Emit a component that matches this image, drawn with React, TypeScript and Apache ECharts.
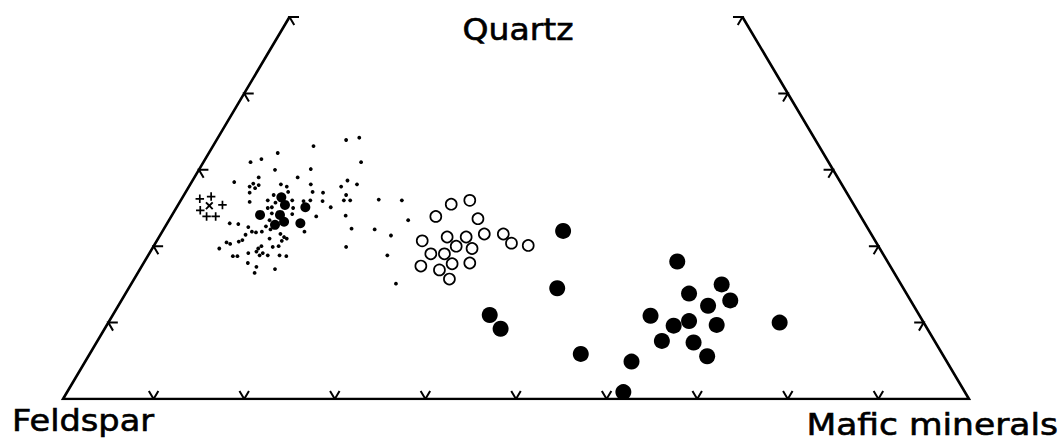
import React, { useEffect, useRef } from "react";
import * as echarts from "echarts";

// Every sample is [quartz %, mafic minerals %]; feldspar % = 100 - quartz - mafic.
const crossSamples: [number, number][] = [
  [26.2, 2.0], [26.5, 3.1], [24.7, 2.8], [25.4, 4.9], [23.9, 3.9], [23.9, 4.9],
];
const diagonalCrossSamples: [number, number][] = [[25.3, 3.5]];

const smallDotSamples: [number, number][] = [
  [33.1, 11.1], [33.9, 14.3], [34.2, 15.6], [32.2, 7.6], [31.0, 5.2], [31.4, 6.2],
  [30.0, 8.4], [30.1, 12.3], [31.0, 17.4], [28.4, 4.7], [29.0, 7.1], [29.0, 11.4],
  [28.2, 6.9], [28.0, 7.6], [27.8, 6.7], [27.6, 7.4], [28.1, 10.0], [27.8, 10.8],
  [28.1, 13.3], [28.6, 17.1], [28.1, 18.4], [27.8, 16.8], [27.0, 7.1], [26.7, 9.9],
  [27.1, 11.3], [26.0, 12.3], [27.1, 14.0], [27.0, 15.2], [26.7, 17.9], [26.0, 18.0],
  [26.0, 18.7], [26.1, 21.8], [25.8, 7.7], [26.0, 9.6], [25.7, 10.6], [25.9, 13.6],
  [26.0, 14.3], [25.9, 15.7], [25.0, 10.1], [25.1, 10.5], [25.0, 12.9], [25.1, 17.0],
  [24.3, 10.9], [24.2, 13.2], [23.9, 16.0], [24.0, 19.2], [23.4, 11.1], [23.0, 6.9],
  [22.9, 7.9], [22.5, 9.2], [22.6, 11.1], [21.9, 9.9], [21.8, 10.4], [21.9, 11.0],
  [22.2, 11.8], [21.9, 15.7], [22.3, 20.7], [22.2, 23.3], [21.5, 9.4], [21.6, 13.2],
  [21.2, 13.8], [21.0, 14.2], [21.0, 12.3], [20.5, 7.8], [20.3, 8.3], [20.6, 9.1],
  [20.8, 9.4], [20.7, 13.8], [20.0, 13.8], [19.9, 13.2], [19.7, 7.4], [19.7, 11.7],
  [20.0, 11.9], [19.3, 11.7], [19.1, 12.5], [18.8, 13.2], [19.1, 10.9], [18.8, 12.3],
  [18.8, 14.5], [18.7, 15.3], [19.9, 21.3], [18.7, 9.4], [18.7, 9.9], [17.8, 11.5],
  [17.3, 12.7], [17.0, 14.9], [16.5, 12.9], [26.0, 24.4], [23.4, 26.4], [21.4, 25.5],
  [18.8, 26.4], [15.1, 29.2],
];

const mediumFilledSamples: [number, number][] = [
  [26.4, 10.9], [25.4, 11.8], [24.1, 9.7], [24.1, 11.9], [23.2, 12.8], [22.8, 12.0],
  [23.0, 14.7], [25.1, 14.2],
];

const openCircleSamples: [number, number][] = [
  [26.0, 31.9], [25.5, 30.1], [23.9, 29.2], [23.6, 34.0], [21.6, 35.7], [21.6, 37.8],
  [20.4, 39.3], [20.1, 41.3], [20.7, 29.3], [21.2, 31.8], [21.2, 33.9], [20.0, 33.4],
  [19.7, 35.3], [19.0, 31.1], [19.0, 32.6], [17.4, 30.8], [16.9, 33.1], [17.7, 34.1],
  [17.8, 36.0], [15.7, 34.8],
];

const largeFilledSamples: [number, number][] = [
  [22.0, 44.2], [14.5, 47.3], [11.0, 41.6], [9.2, 43.7], [5.9, 54.2], [4.9, 60.3],
  [0.9, 61.4], [18.0, 58.8], [13.8, 62.2], [15.0, 65.2], [12.9, 67.2], [12.2, 65.1],
  [10.9, 59.4], [10.2, 64.0], [9.6, 62.6], [9.7, 67.3], [7.6, 62.3], [7.4, 65.9],
  [5.6, 68.3], [10.0, 74.1],
];

const bottomTicks = [10, 20, 30, 40, 50, 60, 70, 80, 90];
const sideTicks = [10, 20, 30, 40, 50];
const quartzShownMax = 50;
const vertexLabels = ["Quartz", "Feldspar", "Mafic minerals"];

// ternary (quartz, mafic) -> skewed cartesian (x along base, y = quartz)
const toXY = (q: number, m: number): [number, number] => [m + q / 2, q];
const conv = (arr: [number, number][]) => arr.map(([q, m]) => toXY(q, m));

const TICK = 1.05;

export default function App() {
  const ref = useRef<HTMLDivElement>(null);
  useEffect(() => {
    if (!ref.current) return;
    const chart = echarts.init(ref.current, null, { renderer: "svg" });

    const frame = [
      toXY(quartzShownMax, 0),
      toXY(0, 0),
      toXY(0, 100),
      toXY(quartzShownMax, 100 - quartzShownMax),
    ];
    const tickLines: { coords: [number, number][] }[] = [];
    bottomTicks.forEach((t) => {
      tickLines.push({ coords: [toXY(TICK, t - TICK), toXY(0, t), toXY(TICK, t)] });
    });
    sideTicks.forEach((t) => {
      tickLines.push({ coords: [toXY(t, TICK), toXY(t, 0), toXY(t - TICK, TICK)] });
      tickLines.push({
        coords: [toXY(t, 100 - t - TICK), toXY(t, 100 - t), toXY(t - TICK, 100 - t)],
      });
    });

    const plus = "path://M-1,-5H1V-1H5V1H1V5H-1V1H-5V-1H-1Z";
    const solid = { color: "#000", opacity: 1 };
    const labelStyle = {
      textVerticalAlign: "middle",
      font: "30px 'DejaVu Sans'",
      fill: "#000",
      stroke: "#000",
      lineWidth: 0.6,
    };

    chart.setOption({
      animation: false,
      backgroundColor: "#ffffff",
      grid: { left: 63, right: 93, top: 17, bottom: 47 },
      xAxis: { type: "value", min: 0, max: 100, show: false },
      yAxis: { type: "value", min: 0, max: quartzShownMax, show: false },
      series: [
        {
          type: "lines",
          coordinateSystem: "cartesian2d",
          polyline: true,
          silent: true,
          lineStyle: { color: "#000", width: 2.6, opacity: 1 },
          data: [{ coords: frame }],
        },
        {
          type: "lines",
          coordinateSystem: "cartesian2d",
          polyline: true,
          silent: true,
          lineStyle: { color: "#000", width: 2, opacity: 1 },
          data: tickLines,
        },
        {
          type: "scatter",
          symbol: "circle",
          symbolSize: 3.8,
          itemStyle: solid,
          data: conv(smallDotSamples),
        },
        {
          type: "scatter",
          symbol: plus,
          symbolSize: 8.5,
          itemStyle: solid,
          data: conv(crossSamples),
        },
        {
          type: "scatter",
          symbol: plus,
          symbolSize: 9.5,
          symbolRotate: 45,
          itemStyle: solid,
          data: conv(diagonalCrossSamples),
        },
        {
          type: "scatter",
          symbol: "circle",
          symbolSize: 10,
          itemStyle: solid,
          data: conv(mediumFilledSamples),
        },
        {
          type: "scatter",
          symbol: "circle",
          symbolSize: 11,
          itemStyle: { color: "#fff", borderColor: "#000", borderWidth: 1.7, opacity: 1 },
          data: conv(openCircleSamples),
        },
        {
          type: "scatter",
          symbol: "circle",
          symbolSize: 16,
          itemStyle: solid,
          data: conv(largeFilledSamples),
        },
      ],
      graphic: [
        {
          type: "text",
          x: 518,
          y: 30,
          scaleX: 1.1,
          style: { ...labelStyle, text: vertexLabels[0], textAlign: "center" },
        },
        {
          type: "text",
          x: 12,
          y: 421,
          scaleX: 1.12,
          style: { ...labelStyle, text: vertexLabels[1], textAlign: "left" },
        },
        {
          type: "text",
          x: 1058,
          y: 425,
          scaleX: 1.15,
          style: { ...labelStyle, text: vertexLabels[2], textAlign: "right" },
        },
      ],
    });
    return () => chart.dispose();
  }, []);
  return (
    <div
      ref={ref}
      style={{ position: "absolute", left: 0, top: 0, width: 1062, height: 446 }}
    />
  );
}
